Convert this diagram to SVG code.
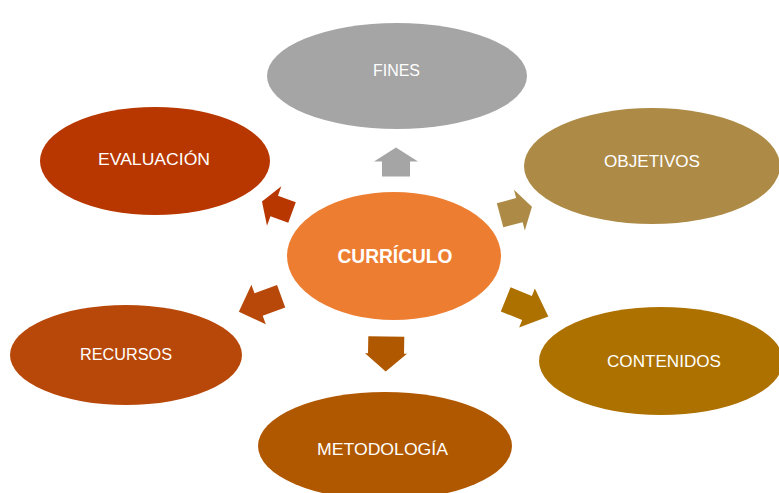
<svg xmlns="http://www.w3.org/2000/svg" xmlns:xlink="http://www.w3.org/1999/xlink" width="779" height="493" viewBox="0 0 779 493">
<style>
.lbl{font-family:"Liberation Sans",Arial,sans-serif;font-size:16px;fill:#ffffff;text-anchor:middle}
.main{font-family:"Liberation Sans",Arial,sans-serif;font-size:20px;font-weight:bold;fill:#ffffff;text-anchor:middle}
</style>
<rect width="779" height="493" fill="#ffffff"/>
<g id="connectors">
<polygon fill="#a5a5a5" transform="translate(396,162) rotate(0)" points="0,-14.5 22,-0.5 14,-0.5 14,14.5 -14,14.5 -14,-0.5 -22,-0.5"/>
<polygon fill="#ad8b47" transform="translate(516,211) rotate(75)" points="0,-16.5 21,-3.5 12.5,-3.5 12.5,16.5 -12.5,16.5 -12.5,-3.5 -21,-3.5"/>
<polygon fill="#ad7100" transform="translate(527,308) rotate(112)" points="0,-23 21,0 13,0 13,23 -13,23 -13,0 -21,0"/>
<polygon fill="#b05800" transform="translate(386,354) rotate(181)" points="0,-17.5 21,0.5 18,0.5 18,17.5 -18,17.5 -18,0.5 -21,0.5"/>
<polygon fill="#b8480a" transform="translate(260,304) rotate(250)" points="0,-22.5 21,-1.5 12,-1.5 12,22.5 -12,22.5 -12,-1.5 -21,-1.5"/>
<polygon fill="#b83700" transform="translate(277,207) rotate(290)" points="0,-16 21,-3 11,-3 11,16 -11,16 -11,-3 -21,-3"/>
</g>
<g id="fines">
<ellipse cx="397" cy="76" rx="130" ry="53" fill="#a5a5a5"/>
<text class="lbl" x="396.5" y="76" textLength="47" lengthAdjust="spacingAndGlyphs">FINES</text>
</g>
<g id="objetivos">
<ellipse cx="652" cy="166" rx="128" ry="58" fill="#ad8b47"/>
<text class="lbl" x="652" y="167" textLength="96" lengthAdjust="spacingAndGlyphs">OBJETIVOS</text>
</g>
<g id="contenidos">
<ellipse cx="661" cy="361" rx="122" ry="54" fill="#ad7100"/>
<text class="lbl" x="664" y="367" textLength="114" lengthAdjust="spacingAndGlyphs">CONTENIDOS</text>
</g>
<g id="metodologia">
<ellipse cx="385" cy="446" rx="127" ry="54" fill="#b05800"/>
<text class="lbl" x="382.5" y="455" textLength="131" lengthAdjust="spacingAndGlyphs">METODOLOGÍA</text>
</g>
<g id="recursos">
<ellipse cx="126" cy="355" rx="116" ry="50" fill="#b8480a"/>
<text class="lbl" x="126" y="360" textLength="92" lengthAdjust="spacingAndGlyphs">RECURSOS</text>
</g>
<g id="evaluacion">
<ellipse cx="155" cy="161" rx="115" ry="54" fill="#b83700"/>
<text class="lbl" x="154" y="165" textLength="112" lengthAdjust="spacingAndGlyphs">EVALUACIÓN</text>
</g>
<g id="curriculo">
<ellipse cx="394" cy="256" rx="107" ry="64" fill="#ed7d31"/>
<text class="main" x="395" y="263" textLength="115" lengthAdjust="spacingAndGlyphs">CURRÍCULO</text>
</g>
</svg>
